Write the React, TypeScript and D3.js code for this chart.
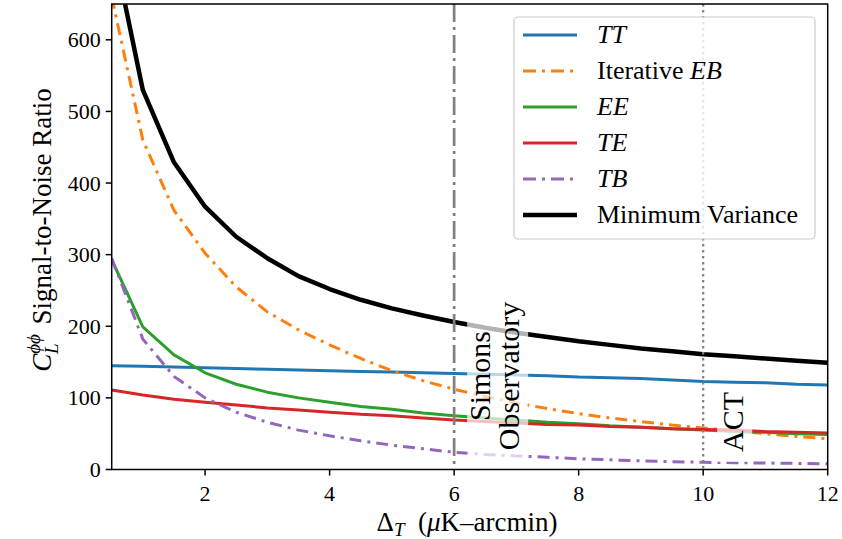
import React from 'react';
import * as d3 from 'd3';

// noise levels (muK-arcmin)
const deltaT = [0.5, 1, 1.5, 2, 2.5, 3, 3.5, 4, 4.5, 5, 5.5, 6, 6.5, 7, 7.5, 8, 8.5, 9, 9.5, 10, 10.5, 11, 11.5, 12];

const snrTT = [145, 144, 143, 142, 141, 140, 139, 138, 137, 136, 135, 134, 133, 132, 131, 129, 128, 127, 125, 123, 122, 121, 119, 118];
const snrEB = [660, 460, 362, 302, 255, 220, 195, 174, 155, 138, 124, 112, 102, 93, 85, 78, 72, 67, 62, 58, 54, 50, 46, 43];
const snrEE = [293, 199, 160, 135, 119, 108, 100, 94, 88, 84, 79, 75, 72, 69, 66, 64, 61, 59, 57, 55, 53, 52, 50, 49];
const snrTE = [111, 104, 98, 94, 90, 86, 83, 80, 77, 75, 72, 69, 67, 65, 63, 62, 60, 59, 57, 56, 55, 53, 52, 51];
const snrTB = [295, 182, 130, 100, 80, 66, 55, 47, 40, 34, 29, 24, 21, 19, 17, 15, 13.5, 12, 11, 10, 9.5, 9, 8.5, 8];
const snrMV = [740, 530, 429, 367, 325, 295, 270, 252, 237, 225, 215, 206, 198, 191, 185, 179, 174, 169, 165, 161, 158, 155, 152, 149];

const xTicks = [2, 4, 6, 8, 10, 12];
const yTicks = [0, 100, 200, 300, 400, 500, 600];

const dashDot = '12,6,3,6';
const series = [
  { key: 'TT', label: [{ t: 'TT', i: true }], values: snrTT, color: '#1f77b4', width: 3, dash: '' },
  { key: 'EB', label: [{ t: 'Iterative ', i: false }, { t: 'EB', i: true }], values: snrEB, color: '#ff7f0e', width: 3, dash: dashDot },
  { key: 'EE', label: [{ t: 'EE', i: true }], values: snrEE, color: '#2ca02c', width: 3, dash: '' },
  { key: 'TE', label: [{ t: 'TE', i: true }], values: snrTE, color: '#d62728', width: 3, dash: '' },
  { key: 'TB', label: [{ t: 'TB', i: true }], values: snrTB, color: '#9467bd', width: 3, dash: dashDot },
  { key: 'MV', label: [{ t: 'Minimum Variance', i: false }], values: snrMV, color: '#000000', width: 4.5, dash: '' },
];

const W = 842;
const H = 539;
const m = { left: 111.7, right: 827.7, top: 4, bottom: 469.5 };
const txt = { fontFamily: "'Liberation Serif'" };

export default function App() {
  const x = d3.scaleLinear().domain([0.5, 12]).range([m.left, m.right]);
  const y = d3.scaleLinear().domain([0, 650]).range([m.bottom, m.top]);
  const line = d3.line<number>().x((_, i) => x(deltaT[i])).y(d => y(d));

  const soX = x(6);
  const actX = x(10);

  return (
    <svg width={W} height={H} style={{ position: 'absolute', left: 0, top: 0, background: '#fff' }}>
      <defs>
        <clipPath id="plot">
          <rect x={m.left} y={m.top} width={m.right - m.left} height={m.bottom - m.top} />
        </clipPath>
      </defs>
      <g clipPath="url(#plot)">
        {series.map(s => (
          <path key={s.key} d={line(s.values) || ''} fill="none" stroke={s.color}
            strokeWidth={s.width} strokeDasharray={s.dash} strokeLinejoin="round" />
        ))}
        <line x1={soX} x2={soX} y1={m.top} y2={m.bottom} stroke="#808080" strokeWidth={2.7} strokeDasharray="18,5,3,5" />
        <line x1={actX} x2={actX} y1={m.top} y2={m.bottom} stroke="#808080" strokeWidth={2.2} strokeDasharray="2.5,3.5" />
        {/* annotation boxes */}
        <rect x={soX + 13} y={290} width={61} height={172} fill="#fff" fillOpacity={0.7} />
        <rect x={actX + 14} y={384} width={35} height={78} fill="#fff" fillOpacity={0.7} />
      </g>
      <g transform={`translate(${soX + 42},376) rotate(-90)`} textAnchor="middle">
        <text x={0} y={-6} fontSize={30} style={txt}>Simons</text>
        <text x={0} y={23} fontSize={30} style={txt}>Observatory</text>
      </g>
      <text transform={`translate(${actX + 40},422) rotate(-90)`} fontSize={30} textAnchor="middle" style={txt}>ACT</text>

      {/* axes frame */}
      <rect x={m.left} y={m.top} width={m.right - m.left} height={m.bottom - m.top} fill="none" stroke="#000" strokeWidth={1.5} />
      {xTicks.map(t => (
        <g key={t}>
          <line x1={x(t)} x2={x(t)} y1={m.bottom} y2={m.bottom + 6} stroke="#000" strokeWidth={1.5} />
          <text x={x(t)} y={m.bottom + 31.5} fontSize={22} textAnchor="middle" style={txt}>{t}</text>
        </g>
      ))}
      {yTicks.map(t => (
        <g key={t}>
          <line x1={m.left - 6} x2={m.left} y1={y(t)} y2={y(t)} stroke="#000" strokeWidth={1.5} />
          <text x={m.left - 11} y={y(t) + 7.5} fontSize={22} textAnchor="end" style={txt}>{t}</text>
        </g>
      ))}
      <text x={467} y={531} fontSize={27} textAnchor="middle" style={txt}>
        <tspan>Δ</tspan><tspan fontStyle="italic" fontSize={19} dy={5}>T</tspan>
        <tspan dy={-5}>{'\u2002('}</tspan><tspan fontStyle="italic">μ</tspan><tspan>K–arcmin)</tspan>
      </text>
      <text transform="translate(51,230) rotate(-90)" fontSize={27} textAnchor="middle" style={txt}>
        <tspan fontStyle="italic">C</tspan>
        <tspan fontStyle="italic" fontSize={19} dy={-11}>ϕϕ</tspan>
        <tspan fontStyle="italic" fontSize={19} dx={-20} dy={18}>L</tspan>
        <tspan dy={-7} dx={19}>Signal-to-Noise Ratio</tspan>
      </text>

      {/* legend */}
      <g>
        <rect x={514} y={17} width={301} height={222} rx={4} fill="#fff" fillOpacity={0.8} stroke="#cccccc" strokeWidth={1.2} />
        {series.map((s, i) => {
          const ly = 35 + i * 36;
          return (
            <g key={s.key}>
              <line x1={523} x2={577} y1={ly} y2={ly} stroke={s.color} strokeWidth={s.width}
                strokeDasharray={s.dash ? '13,6,3,6' : ''} />
              <text x={597} y={ly + 8} fontSize={26} style={txt}>
                {s.label.map((p, j) => (
                  <tspan key={j} fontStyle={p.i ? 'italic' : 'normal'}>{p.t}</tspan>
                ))}
              </text>
            </g>
          );
        })}
      </g>
    </svg>
  );
}
